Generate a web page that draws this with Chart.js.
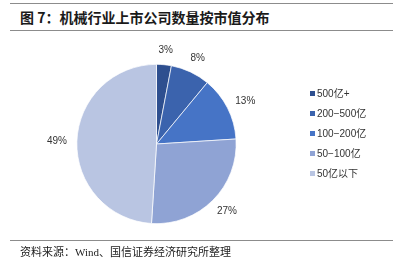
<!DOCTYPE html>
<html><head><meta charset="utf-8">
<script src="https://cdn.jsdelivr.net/npm/chart.js@4"></script>
<style>
html,body{margin:0;padding:0;background:#fff;width:397px;height:264px;overflow:hidden;position:relative}
.line{position:absolute;left:10px;width:383px;height:0;border-top:1.5px solid #8c8c8c}
#title{position:absolute;left:20px;top:7px;font:bold 14px "Noto Sans CJK SC","Liberation Sans",sans-serif;color:#1a1a1a;white-space:nowrap}
#foot{position:absolute;left:20px;top:243px;font:11px "Liberation Serif","Noto Sans CJK SC",serif;color:#222;white-space:nowrap}
#wrap{position:absolute;left:0;top:0;width:397px;height:264px}
#legend{position:absolute;left:310px;top:88px;font:10px "Liberation Sans","Noto Sans CJK SC",sans-serif;color:#333}
#legend div{height:20px;line-height:12px;white-space:nowrap}
#legend span.box{display:inline-block;width:5px;height:5px;margin-right:2px;vertical-align:1px}
</style></head>
<body>
<div class="line" style="top:3px"></div>
<div id="title">图 7：机械行业上市公司数量按市值分布</div>
<div class="line" style="top:30px"></div>
<div id="wrap"><canvas id="c"></canvas></div>
<div id="legend"></div>
<div class="line" style="top:240px"></div>
<div id="foot">资料来源：Wind、国信证券经济研究所整理</div>
<script>
const categories = ["500亿+", "200-500亿", "100-200亿", "50-100亿", "50亿以下"];
const shares = [3, 8, 13, 27, 49];
const sliceColors = ["#2E4F8F", "#3B63AD", "#4674C6", "#8FA3D4", "#B9C5E2"];

const leg = document.getElementById('legend');
categories.forEach((c,i)=>{
  const d=document.createElement('div');
  const b=document.createElement('span');b.className='box';b.style.background=sliceColors[i];
  d.appendChild(b);d.appendChild(document.createTextNode(c.replace('-', '−')));
  leg.appendChild(d);
});

const labelPlugin = {
  id:'outLabels',
  afterDatasetsDraw(chart){
    const ctx=chart.ctx;
    const meta=chart.getDatasetMeta(0);
    ctx.save();
    ctx.font='10px "Liberation Sans", sans-serif';
    ctx.fillStyle='#333';
    ctx.textAlign='center';ctx.textBaseline='middle';
    meta.data.forEach((arc,i)=>{
      const p=arc.getProps(['x','y','startAngle','endAngle','outerRadius'],true);
      const mid=(p.startAngle+p.endAngle)/2;
      const cx=Math.cos(mid), sy=Math.sin(mid);
      const txt=chart.data.datasets[0].data[i]+'%';
      const hw=ctx.measureText(txt).width/2, hh=5;
      const gap=10;
      const x=p.x+cx*(p.outerRadius+gap)+cx*hw;
      const y=p.y+sy*(p.outerRadius+gap)+sy*hh;
      ctx.fillText(txt,x,y);
    });
    ctx.restore();
  }
};

new Chart(document.getElementById('c'),{
  type:'pie',
  data:{labels:categories,datasets:[{data:shares,backgroundColor:sliceColors,borderColor:'#fff',borderWidth:0.7}]},
  options:{
    responsive:true,maintainAspectRatio:false,animation:false,
    layout:{padding:{left:76,right:160,top:64,bottom:40}},
    plugins:{legend:{display:false},tooltip:{enabled:false}}
  },
  plugins:[labelPlugin]
});
</script>
</body></html>
